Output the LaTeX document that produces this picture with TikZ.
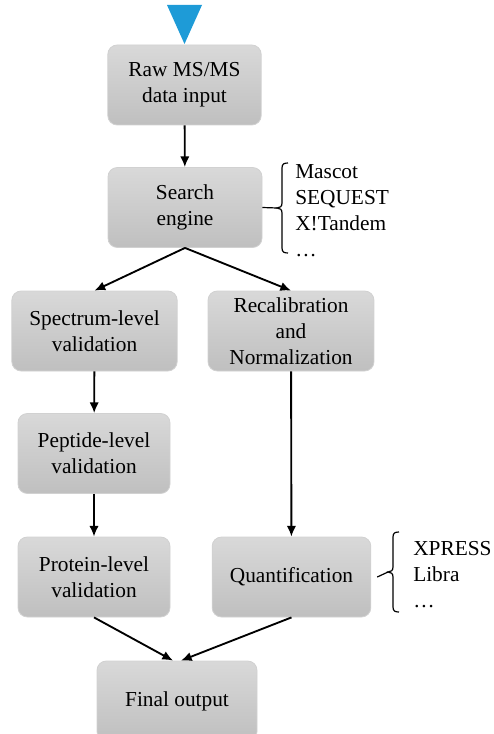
\documentclass[tikz,border=0pt]{standalone}
\usepackage{fontspec}
\setmainfont{Liberation Serif}
\usetikzlibrary{arrows.meta}

\tikzset{
  procbox/.style={rounded corners=7pt, top color=black!15, bottom color=black!25,
    draw=black!18, line width=0.6pt, minimum height=60pt, inner sep=0pt,
    align=center, font=\fontsize{16}{19.5}\selectfont},
  flowarrow/.style={line width=1.4pt, -{Latex[length=8pt,width=7pt]}},
  toollist/.style={anchor=west, align=left, inner sep=0pt, font=\fontsize{16}{19.5}\selectfont},
  toolbrace/.style={line width=0.9pt}
}

\begin{document}
\begin{tikzpicture}[x=0.75pt,y=0.75pt,yscale=-1,xscale=1]
\useasboundingbox (0,0) rectangle (493,734);

%Triangle: start marker
\fill [fill={rgb,255:red,30;green,155;blue,215}] (167,5) -- (202,5) -- (184.5,44) -- cycle ;

% Process boxes
\node [procbox, minimum width=115pt] (raw) at (184.5,85) {Raw MS/MS\\data input};
\node [procbox, minimum width=115.5pt] (search) at (185,207.5) {Search\\engine};
\node [procbox, minimum width=124pt] (spectrum) at (94.5,331) {Spectrum-level\\validation};
\node [procbox, minimum width=124.5pt] (recal) at (291,331) {Recalibration\\and\\Normalization};
\node [procbox, minimum width=114pt] (peptide) at (94,453.5) {Peptide-level\\validation};
\node [procbox, minimum width=114pt] (protein) at (94,577) {Protein-level\\validation};
\node [procbox, minimum width=119pt] (quant) at (291.5,577) {Quantification};
\node [procbox, minimum width=120pt] (final) at (177,701) {Final output};

% Tool lists
\node [toollist] (engines) at (295,211) {Mascot\\SEQUEST\\X!Tandem\\\dots};
\node [toollist] (quanttools) at (413,575) {XPRESS\\Libra\\\dots};

% Brace: search engines
\coordinate (enginestip) at (277,208);
\draw [toolbrace] (288,163) .. controls (284,163) and (282,164) .. (282,168) -- (282,203)
  .. controls (282,206.5) and (280,208) .. (enginestip)
  .. controls (280,208) and (282,209.5) .. (282,213) -- (282,248)
  .. controls (282,252) and (284,253) .. (288,253) ;
\draw [toolbrace] (search.east) -- (enginestip);

% Brace: quantification tools
\coordinate (quanttip) at (388,572);
\draw [toolbrace] (399,532) .. controls (395,532) and (393,533) .. (393,537) -- (393,567)
  .. controls (393,570.5) and (391,572) .. (quanttip)
  .. controls (391,572) and (393,573.5) .. (393,577) -- (393,607)
  .. controls (393,611) and (395,612) .. (399,612) ;
\draw [toolbrace] ([xshift=4.5pt]quant.east) -- (quanttip);

% Arrows
\draw [flowarrow] (raw) -- (search);
\draw [flowarrow] (search.south) -- (spectrum.north);
\draw [flowarrow] (search.south) -- (recal.north);
\draw [flowarrow] (spectrum) -- (peptide);
\draw [flowarrow] (peptide) -- (protein);
\draw [flowarrow] (recal) -- (quant);
\draw [flowarrow] (protein.south) -- ([xshift=-3pt]final.north);
\draw [flowarrow] (quant.south) -- ([xshift=3pt]final.north);

\end{tikzpicture}
\end{document}
